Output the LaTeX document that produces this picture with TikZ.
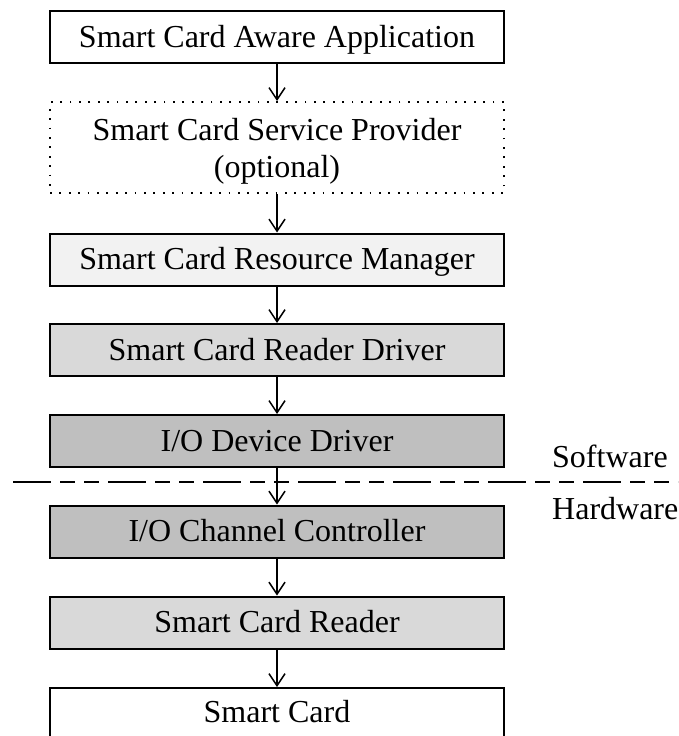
\documentclass[tikz,border=0pt]{standalone}
\usepackage{fontspec}
\setmainfont{Liberation Serif}
\usetikzlibrary{arrows.meta}

\definecolor{shadeA}{HTML}{F2F2F2}
\definecolor{shadeB}{HTML}{D9D9D9}
\definecolor{shadeC}{HTML}{BFBFBF}

\tikzset{
  layer/.style={draw=black, line width=2pt, minimum width=454pt, minimum height=52pt,
    inner sep=0pt, font=\fontsize{32}{37}\selectfont,
    text height=24pt, text depth=4pt},
  flow/.style={draw=black, line width=1.5pt, -{Straight Barb[length=12pt,width=16pt,line width=1.5pt]}},
  boundary/.style={line width=2pt, dash pattern=on 38pt off 9pt on 15pt off 9pt on 15pt off 9pt},
  caption/.style={anchor=base, inner sep=0pt, font=\fontsize{32}{37}\selectfont},
  sidelabel/.style={caption, anchor=base west}
}

\begin{document}
\begin{tikzpicture}[x=1pt,y=-1pt]
  \useasboundingbox (0,0) rectangle (678,736);
  \clip (0,0) rectangle (678,736);

  % software / hardware boundary
  \draw[boundary] (13,482) -- (690,482);
  \node[sidelabel] (sw) at (552,467) {Software};
  \node[sidelabel] (hw) at (552,519) {Hardware};

  % the stack of layers
  \node[layer] (app) at (277,37) {Smart Card Aware Application};
  \node[layer, minimum height=91pt, dash pattern=on 1.8pt off 7.6pt] (ssp) at (277,147.5) {};
  % anchored on the baseline of its last line
  \node[caption, align=center] (ssptxt) at (277,177) {Smart Card Service Provider\\(optional)};
  \node[layer, fill=shadeA] (rm) at (277,259.5) {Smart Card Resource Manager};
  \node[layer, fill=shadeB] (rd) at (277,350) {Smart Card Reader Driver};
  \node[layer, fill=shadeC] (iod) at (277,441) {I/O Device Driver};
  \node[layer, fill=shadeC] (ioc) at (277,531.5) {I/O Channel Controller};
  \node[layer, fill=shadeB] (rdr) at (277,622.5) {Smart Card Reader};
  \node[layer, minimum height=110pt, anchor=north, text height=, text depth=] (card) at (277,687) {};
  \node[caption] (cardtxt) at (277,722) {Smart Card};

  % calls between layers
  \draw[flow] (app.south) -- (ssp.north);
  \draw[flow] (ssp.south) -- (rm.north);
  \draw[flow] (rm.south) -- (rd.north);
  \draw[flow] (rd.south) -- (iod.north);
  \draw[flow] (iod.south) -- (ioc.north);
  \draw[flow] (ioc.south) -- (rdr.north);
  \draw[flow] (rdr.south) -- (card.north);
\end{tikzpicture}
\end{document}
